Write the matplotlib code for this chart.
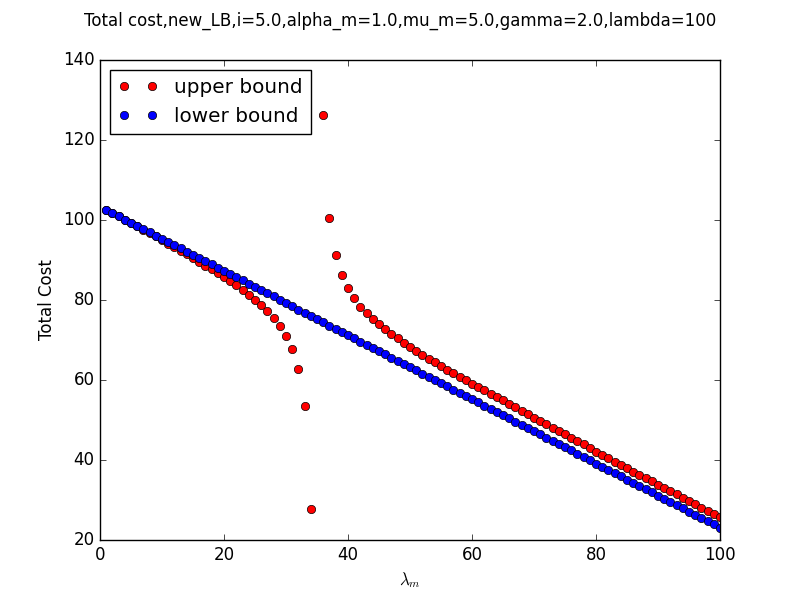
import matplotlib
matplotlib.use("Agg")
import matplotlib.pyplot as plt
import numpy as np

plt.style.use('classic')

lam = np.arange(1, 101)

upper = [102.5, 101.7, 100.9, 100.1, 99.2, 98.4, 97.6, 96.8, 95.9, 95.0,
         94.1, 93.2, 92.3, 91.4, 90.5, 89.5, 88.5, 87.7, 86.7, 85.7,
         84.8, 83.7, 82.6, 81.3, 80.1, 78.8, 77.3, 75.6, 73.5, 71.0,
         67.7, 62.7, 53.4, 27.7, np.nan, 126.2, 100.4, 91.2, 86.2, 82.9,
         80.4, 78.3, 76.7, 75.2, 73.9, 72.7, 71.4, 70.4, 69.3, 68.3,
         67.3, 66.2, 65.3, 64.4, 63.5, 62.5, 61.7, 60.8, 60.0, 59.1,
         58.3, 57.4, 56.6, 55.7, 54.9, 54.0, 53.2, 52.3, 51.5, 50.6,
         49.8, 48.9, 48.1, 47.2, 46.4, 45.6, 44.7, 43.9, 43.1, 42.1,
         41.3, 40.5, 39.6, 38.8, 38.0, 37.1, 36.3, 35.5, 34.7, 33.8,
         33.0, 32.2, 31.4, 30.6, 29.7, 28.9, 28.1, 27.3, 26.5, 25.7]

lower = [102.5, 101.7, 100.9, 100.1, 99.3, 98.5, 97.7, 96.9, 96.1, 95.3,
         94.5, 93.7, 92.9, 92.1, 91.3, 90.5, 89.7, 88.9, 88.1, 87.3,
         86.5, 85.7, 84.9, 84.1, 83.3, 82.5, 81.7, 80.9, 80.0, 79.2,
         78.4, 77.6, 76.8, 76.0, 75.2, 74.4, 73.6, 72.8, 72.0, 71.2,
         70.4, 69.6, 68.8, 68.0, 67.2, 66.4, 65.6, 64.8, 64.0, 63.2,
         62.4, 61.6, 60.8, 60.0, 59.2, 58.4, 57.6, 56.8, 56.0, 55.2,
         54.4, 53.6, 52.8, 52.0, 51.2, 50.4, 49.6, 48.8, 48.0, 47.2,
         46.4, 45.6, 44.8, 44.0, 43.2, 42.4, 41.6, 40.8, 40.0, 39.1,
         38.3, 37.5, 36.7, 35.9, 35.1, 34.3, 33.5, 32.7, 31.9, 31.1,
         30.3, 29.5, 28.7, 27.9, 27.1, 26.3, 25.5, 24.7, 23.9, 23.1]

fig = plt.figure(figsize=(8, 6), dpi=100)
plt.plot(lam, upper, 'ro', label='upper bound')
plt.plot(lam, lower, 'bo', label='lower bound')
plt.xlim(0, 100)
plt.ylim(20, 140)
plt.xlabel(r'$\lambda_m$')
plt.ylabel('Total Cost')
plt.legend(loc='upper left')
fig.suptitle('Total cost,new_LB,i=5.0,alpha_m=1.0,mu_m=5.0,gamma=2.0,lambda=100')
plt.savefig('out.png', dpi=100)
